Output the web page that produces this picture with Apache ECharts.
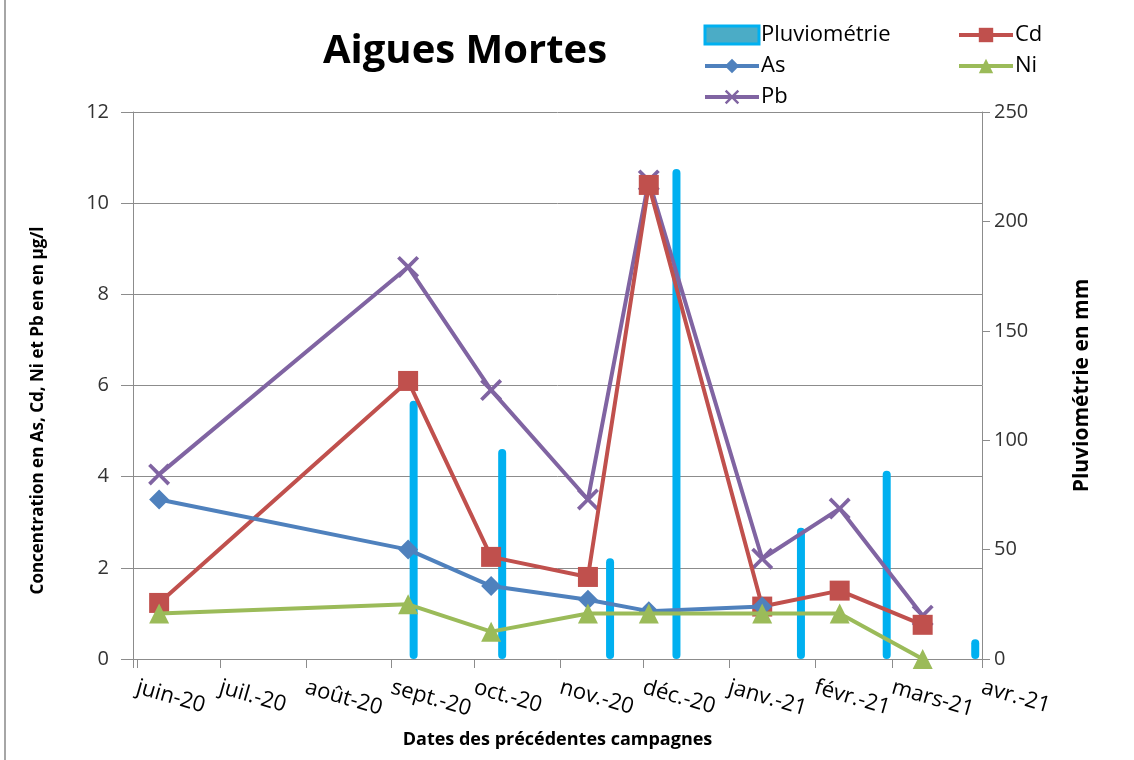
<!DOCTYPE html>
<html>
<head>
<meta charset="utf-8">
<script src="https://cdn.jsdelivr.net/npm/echarts@6/dist/echarts.min.js"></script>
<style>
  html, body { margin: 0; padding: 0; background: #fff; }
  body { padding-left: 4px; }
  #chart { width: 1128px; height: 760px; border-left: 2px solid #a6a6a6; }
</style>
</head>
<body>
<div id="chart"></div>
<script>
// dates des campagnes
var campaignDates = ['2020-06-09', '2020-09-07', '2020-10-07', '2020-11-11', '2020-12-03', '2021-01-13', '2021-02-10', '2021-03-12']
var asValues = [3.5, 2.4, 1.6, 1.3, 1.05, 1.15]
var cdValues = [1.23, 6.1, 2.24, 1.8, 10.4, 1.15, 1.5, 0.75]
var niValues = [1.0, 1.2, 0.6, 1.0, 1.0, 1.0, 1.0, 0.0]
var pbValues = [4.05, 8.6, 5.9, 3.5, 10.5, 2.2, 3.3, 0.95]

// pluviométrie
var rainDates = ['2020-09-09', '2020-10-11', '2020-11-19', '2020-12-13', '2021-01-27', '2021-02-27', '2021-03-31']
var rainValues = [118, 96, 46, 224, 60, 86, 9]

var monthLabels = ['juin-20', 'juil.-20', 'août-20', 'sept.-20', 'oct.-20', 'nov.-20', 'déc.-20', 'janv.-21', 'févr.-21', 'mars-21', 'avr.-21']

function pairs(dates, values) {
  return values.map(function (v, i) { return [dates[i], v] })
}

var font = '"Open Sans", Lato, sans-serif'
var gridGray = '#8c8c8c'
var xShape = 'path://M0,1.2L1.2,0L5,3.8L8.8,0L10,1.2L6.2,5L10,8.8L8.8,10L5,6.2L1.2,10L0,8.8L3.8,5Z'

var myChart = echarts.init(document.getElementById('chart'))

var option = {
  animation: false,
  textStyle: { fontFamily: font },
  title: {
    text: 'Aigues Mortes',
    left: 454,
    top: 27,
    textAlign: 'center',
    textStyle: { fontSize: 40, fontWeight: 'bold', color: '#000', fontFamily: font }
  },
  legend: [
    {
      left: 692, top: 19, orient: 'vertical', itemGap: 9,
      itemWidth: 54, itemHeight: 18,
      lineStyle: { width: 4 },
      textStyle: { fontSize: 22, color: '#000', padding: [0, 0, 0, -3] },
      data: [
        { name: 'Pluviométrie', icon: 'rect', itemStyle: { color: '#4bacc6', borderColor: '#00b0f0', borderWidth: 3 } },
        'As', 'Pb'
      ]
    },
    {
      left: 946, top: 19, orient: 'vertical', itemGap: 9,
      itemWidth: 54, itemHeight: 18,
      lineStyle: { width: 4 },
      textStyle: { fontSize: 22, color: '#000', padding: [0, 0, 0, -3] },
      data: ['Cd', 'Ni']
    }
  ],
  grid: { left: 127, right: 152, top: 112, height: 547, outerBoundsMode: 'none' },
  xAxis: {
    type: 'time',
    min: '2020-06-01',
    max: '2021-04-01',
    minInterval: 28 * 86400000,
    maxInterval: 31 * 86400000,
    name: 'Dates des précédentes campagnes',
    nameLocation: 'middle',
    nameGap: 72,
    nameTextStyle: { fontSize: 18, fontWeight: 'bold', color: '#000' },
    axisLine: { lineStyle: { color: gridGray } },
    axisTick: { show: true, length: 9, lineStyle: { color: gridGray } },
    splitLine: { show: false },
    axisLabel: {
      rotate: -16,
      margin: 28,
      fontSize: 22,
      color: '#000',
      showMinLabel: true,
      showMaxLabel: true,
      hideOverlap: false,
      formatter: function (v) {
        var d = new Date(v)
        var idx = (d.getFullYear() - 2020) * 12 + d.getMonth() - 5
        return monthLabels[idx] || ''
      }
    }
  },
  yAxis: [
    {
      type: 'value', min: 0, max: 12, interval: 2,
      name: 'Concentration en As, Cd, Ni et Pb en en µg/l',
      nameLocation: 'middle', nameRotate: 90, nameGap: 86,
      nameTextStyle: { fontSize: 17, fontWeight: 'bold', color: '#000', padding: [0, 0, 0, -50] },
      axisLine: { show: true, lineStyle: { color: gridGray } },
      axisTick: { show: true, length: 12, lineStyle: { color: gridGray } },
      axisLabel: { fontSize: 20, color: '#333', margin: 24 },
      splitLine: { lineStyle: { color: gridGray, width: 1 } }
    },
    {
      type: 'value', min: 0, max: 250, interval: 50,
      name: 'Pluviométrie en mm',
      nameLocation: 'middle', nameRotate: 90, nameGap: 90,
      nameTextStyle: { fontSize: 21, fontWeight: 'bold', color: '#000' },
      axisLine: { show: true, lineStyle: { color: gridGray } },
      axisTick: { show: true, length: 8, lineStyle: { color: gridGray } },
      axisLabel: { fontSize: 20, color: '#333', margin: 12 },
      splitLine: { show: false }
    }
  ],
  series: [
    {
      name: 'Pluviométrie', type: 'bar', yAxisIndex: 1,
      barWidth: 8, z: 1,
      itemStyle: { color: '#00b0f0', borderRadius: 4 },
      data: pairs(rainDates, rainValues)
    },
    {
      name: 'Cd', type: 'line', z: 3,
      symbol: 'rect', symbolSize: 20,
      lineStyle: { color: '#c0504d', width: 4 },
      itemStyle: { color: '#c0504d' },
      data: pairs(campaignDates, cdValues)
    },
    {
      name: 'As', type: 'line', z: 4,
      symbol: 'diamond', symbolSize: 20,
      lineStyle: { color: '#4f81bd', width: 4 },
      itemStyle: { color: '#4f81bd' },
      data: pairs(campaignDates, asValues)
    },
    {
      name: 'Ni', type: 'line', z: 5,
      symbol: 'triangle', symbolSize: 20,
      lineStyle: { color: '#9bbb59', width: 4 },
      itemStyle: { color: '#9bbb59' },
      data: pairs(campaignDates, niValues)
    },
    {
      name: 'Pb', type: 'line', z: 2,
      symbol: xShape, symbolSize: 22,
      lineStyle: { color: '#8064a2', width: 4 },
      itemStyle: { color: '#8064a2' },
      data: pairs(campaignDates, pbValues)
    }
  ]
}

myChart.setOption(option)
window.onresize = function () { myChart.resize() }
</script>
</body>
</html>
